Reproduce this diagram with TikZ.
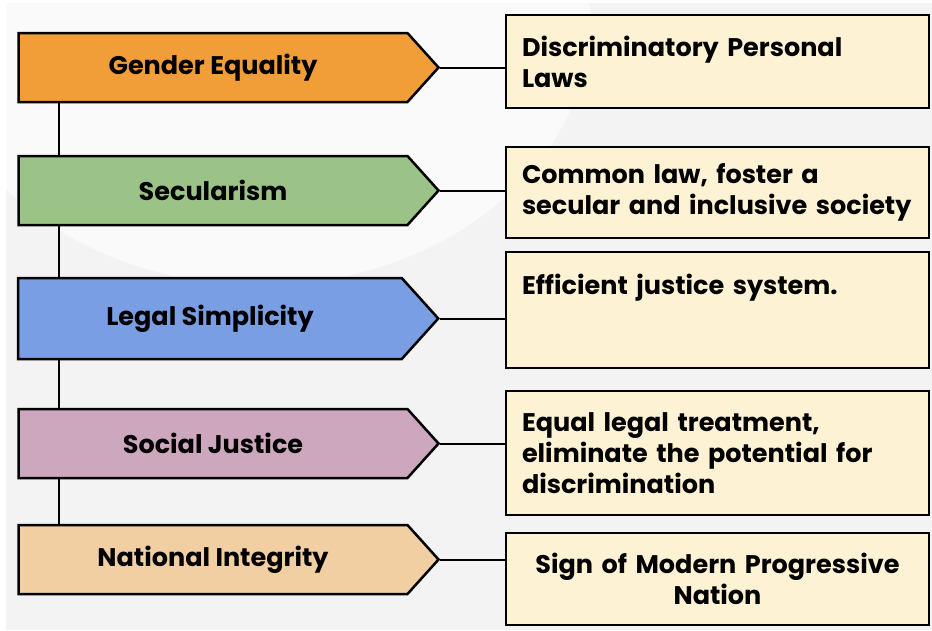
\documentclass[tikz,border=0pt]{standalone}
\usepackage{fontspec}
\setmainfont{Poppins}
\usepackage{xcolor}
\definecolor{bggray}{HTML}{F3F3F3}
\definecolor{bgdisc}{HTML}{FAFAFA}
\definecolor{gendercol}{HTML}{F19E39}
\definecolor{secularcol}{HTML}{9CC387}
\definecolor{legalcol}{HTML}{7A9EE3}
\definecolor{socialcol}{HTML}{CCA7BE}
\definecolor{nationalcol}{HTML}{F2CFA2}
\definecolor{notefill}{HTML}{FDF2D3}
\usetikzlibrary{shapes.symbols}

\begin{document}
\begin{tikzpicture}[x=1pt, y=-1pt,
	topic/.style={shape=signal, signal to=east, signal pointer angle=96, draw=black, line width=2.5pt,
		minimum width=420pt, minimum height=69pt, inner sep=0pt, font=\fontsize{25.5}{31}\selectfont\bfseries},
	note/.style={rectangle, draw=black, line width=2.5pt, fill=notefill, minimum width=423pt,
		text width=391pt, inner xsep=16pt, align=left, font=\fontsize{25.5}{31}\selectfont\bfseries},
	link/.style={line width=2pt}]
	\useasboundingbox (0,0) rectangle (932,630);
	% backdrop
	\fill[white] (0,0) rectangle (932,630);
	\begin{scope}
		\clip (6,3) rectangle (932,630);
		\fill[bggray] (6,3) rectangle (932,630);
		\fill[bgdisc] (260,20) ellipse [x radius=330, y radius=265];
	\end{scope}
	\coordinate (spine) at (59,0);

	% left column
	\node[topic, fill=gendercol] (gender) at (213,67.5) {Gender Equality};
	\node[topic, fill=secularcol] (secular) at (213,190.5) {Secularism};
	\node[topic, fill=legalcol, minimum height=81pt] (legal) at (210,318.5) {Legal Simplicity};
	\node[topic, fill=socialcol] (social) at (213,443.5) {Social Justice};
	\node[topic, fill=nationalcol] (national) at (213,559.5) {National Integrity};

	% right column
	\node[note, minimum height=93pt] (laws) at (717.5,61.5) {Discriminatory Personal\\Laws};
	\node[note, minimum height=91pt] (common) at (717.5,192.5) {Common law, foster a\\secular and inclusive society};
	\node[note, minimum height=116pt, text depth=52pt] (justice) at (717.5,310) {Efficient justice system.};
	\node[note, minimum height=124pt] (equal) at (717.5,453) {Equal legal treatment,\\eliminate the potential for\\discrimination};
	\node[note, minimum height=92pt, align=center] (nation) at (717.5,579) {Sign of Modern Progressive\\Nation};

	% spine between topics
	\draw[link] (gender.south -| spine) -- (secular.north -| spine);
	\draw[link] (secular.south -| spine) -- (legal.north -| spine);
	\draw[link] (legal.south -| spine) -- (social.north -| spine);
	\draw[link] (social.south -| spine) -- (national.north -| spine);

	% topic to note
	\draw[link] (gender.east) -- (gender.east -| laws.west);
	\draw[link] (secular.east) -- (secular.east -| common.west);
	\draw[link] (legal.east) -- (legal.east -| justice.west);
	\draw[link] (social.east) -- (social.east -| equal.west);
	\draw[link] (national.east) -- (national.east -| nation.west);
\end{tikzpicture}
\end{document}
